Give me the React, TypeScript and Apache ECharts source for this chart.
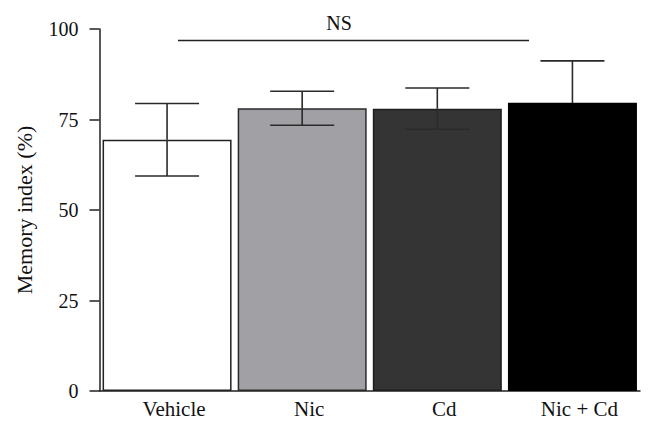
import React, { useEffect, useRef } from "react";
import * as echarts from "echarts";

const categories = ["Vehicle", "Nic", "Cd", "Nic + Cd"];
const means = [69.4, 78.1, 78.0, 79.6];
const errors = [10.0, 4.7, 5.7, 11.6];
const barColors = ["#ffffff", "#a1a0a5", "#343434", "#000000"];
const barBorders = ["#222222", "#2a2a2a", "#1e1e1e", "#000000"];
const yTicks = [0, 25, 50, 75, 100];
const nsLabel = "NS";
const yName = "Memory index (%)";

const FONT = "'Liberation Serif', 'Times New Roman', serif";

export default function App() {
  const ref = useRef<HTMLDivElement>(null);
  useEffect(() => {
    if (!ref.current) return;
    const chart = echarts.init(ref.current, null, { renderer: "svg" });
    chart.setOption({
      animation: false,
      backgroundColor: "#ffffff",
      grid: { left: 99.5, right: 14, top: 29, bottom: 40, containLabel: false },
      xAxis: {
        type: "category",
        data: categories,
        axisLine: { show: true, lineStyle: { color: "#222", width: 1.5 } },
        axisTick: { show: false },
        axisLabel: {
          color: "#111",
          fontFamily: FONT,
          fontSize: 21,
          margin: 7,
          padding: [0, 0, 0, 14],
        },
      },
      yAxis: {
        type: "value",
        min: yTicks[0],
        max: yTicks[yTicks.length - 1],
        interval: 25,
        name: yName,
        nameLocation: "middle",
        nameGap: 64,
        nameTextStyle: { color: "#111", fontFamily: FONT, fontSize: 22 },
        axisLine: { show: true, lineStyle: { color: "#222", width: 1.5 } },
        axisTick: { show: true, length: 10, inside: false, lineStyle: { color: "#222", width: 1.5 } },
        axisLabel: { color: "#111", fontFamily: FONT, fontSize: 20, margin: 21 },
        splitLine: { show: false },
      },
      series: [
        {
          type: "bar",
          data: means.map((v, i) => ({
            value: v,
            itemStyle: {
              color: barColors[i],
              borderColor: barBorders[i],
              borderWidth: 1.5,
            },
          })),
          barWidth: 129,
          z: 2,
        },
        {
          type: "custom",
          z: 3,
          data: means.map((v, i) => [i, v - errors[i], v + errors[i], v]),
          renderItem: (params: any, api: any) => {
            const i = params.dataIndex;
            const x = api.value(0);
            const lo = api.coord([x, api.value(1)]);
            const hi = api.coord([x, api.value(2)]);
            const mid = api.coord([x, api.value(3)]);
            const half = 32;
            const style = { stroke: "#2a2a2a", lineWidth: 1.6 };
            const lowStyle = { stroke: barColors[i] === "#000000" ? "#000000" : "#2a2a2a", lineWidth: 1.6 };
            return {
              type: "group",
              children: [
                { type: "line", shape: { x1: hi[0], y1: hi[1], x2: mid[0], y2: mid[1] }, style },
                { type: "line", shape: { x1: mid[0], y1: mid[1], x2: lo[0], y2: lo[1] }, style: lowStyle },
                { type: "line", shape: { x1: hi[0] - half, y1: hi[1], x2: hi[0] + half, y2: hi[1] }, style },
                { type: "line", shape: { x1: lo[0] - half, y1: lo[1], x2: lo[0] + half, y2: lo[1] }, style: lowStyle },
              ],
            };
          },
        },
      ],
      graphic: [
        {
          type: "line",
          shape: { x1: 178, y1: 40.5, x2: 529, y2: 40.5 },
          style: { stroke: "#222", lineWidth: 1.5 },
        },
        {
          type: "text",
          x: 339,
          y: 23,
          style: {
            text: nsLabel,
            fontFamily: FONT,
            fontSize: 20,
            fill: "#111",
            align: "center",
            verticalAlign: "middle",
          },
        },
      ],
    });
    return () => chart.dispose();
  }, []);
  return <div ref={ref} style={{ width: 654, height: 431, position: "absolute", left: 0, top: 0 }} />;
}
